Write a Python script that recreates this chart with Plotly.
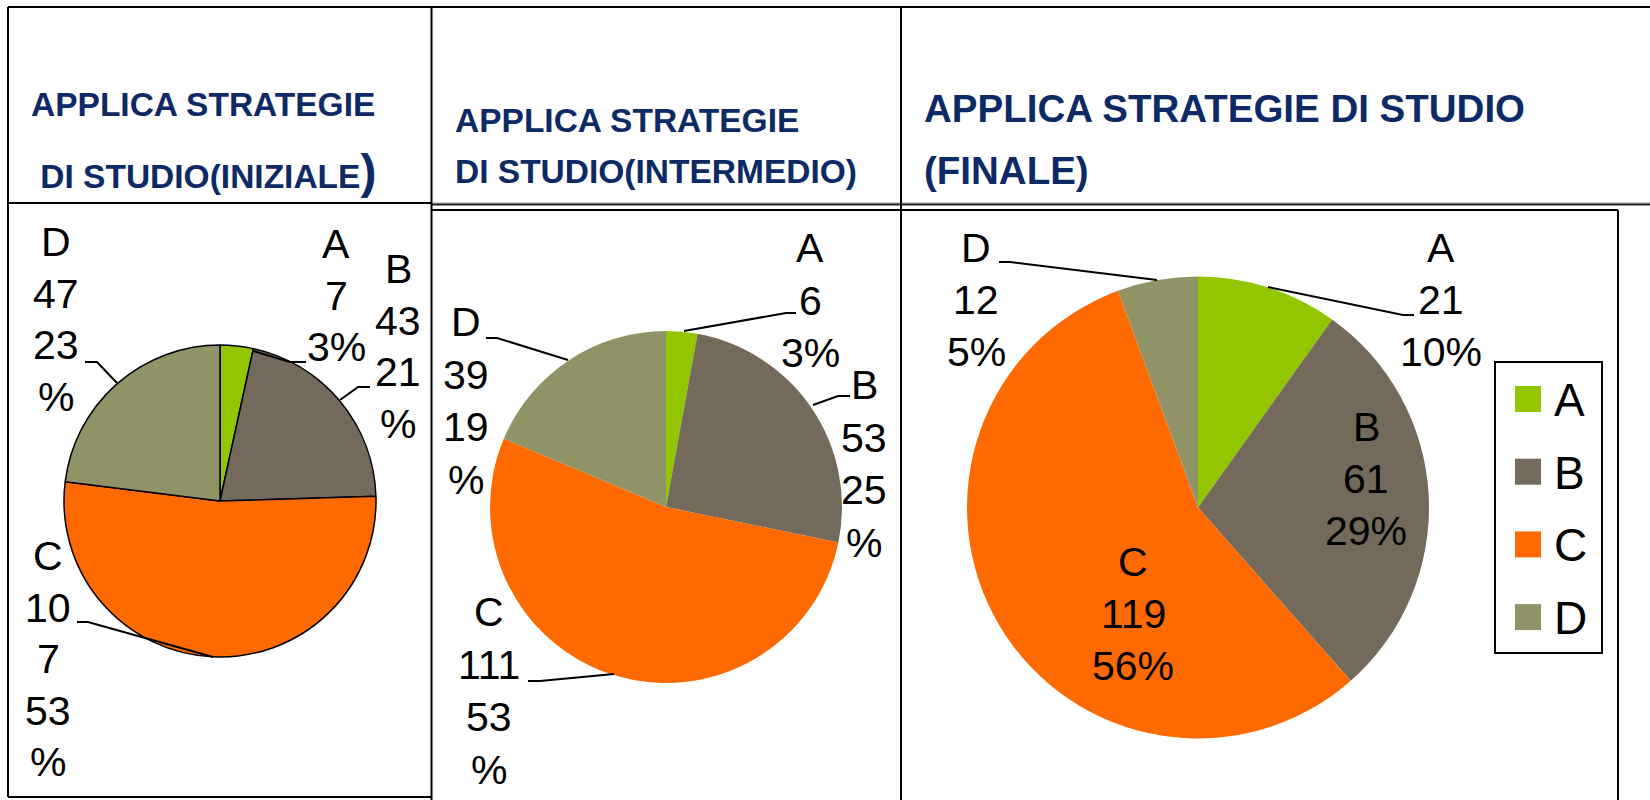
import plotly.graph_objects as go

W, H = 1650, 800

# ---------------- data ----------------
categories = ["A", "B", "C", "D"]
slice_colors = ["#94C600", "#736A5B", "#FF6A00", "#8F9366"]

title_line1 = ["APPLICA STRATEGIE", "APPLICA STRATEGIE", "APPLICA STRATEGIE DI STUDIO"]
title_line2 = [" DI STUDIO(INIZIALE", "DI STUDIO(INTERMEDIO)", "(FINALE)"]
title_tail = [")", "", ""]

values_iniziale = [7, 43, 107, 47]
values_intermedio = [6, 53, 111, 39]
values_finale = [21, 61, 119, 12]

percent_iniziale = [3, 21, 53, 23]
percent_intermedio = [3, 25, 53, 19]
percent_finale = [10, 29, 56, 5]

# ---------------- layout / style (pixels) ----------------
LABEL_FONT = "Liberation Sans"
TITLE_COLOR = "#0E2A66"

panels = [
    dict(values=values_iniziale, pct=percent_iniziale,
         center=(220, 501), r=156, outline=1.5,
         val_wrap=2, pct_wrap=2, gap=51.5,
         title_x=29, title_y=(104, 171), title_size=33.5,
         label_pos=[(336, 244), (398, 269), (48, 556), (56, 242)],
         leaders=[[(253, 351), (290, 362), (306, 362)],
                  [(340, 400), (358, 387), (370, 387)],
                  [(213, 657), (88, 622), (77, 622)],
                  [(117, 383), (97, 362), (85, 362)]]),
    dict(values=values_intermedio, pct=percent_intermedio,
         center=(666, 507), r=176, outline=0,
         val_wrap=3, pct_wrap=2, gap=52.5,
         title_x=453, title_y=(120, 172), title_size=33.5,
         label_pos=[(810, 248), (864, 385), (489, 612), (466, 322)],
         leaders=[[(684, 331), (786, 313), (796, 313)],
                  [(813, 405), (838, 396), (850, 396)],
                  [(614, 674), (540, 681), (528, 681)],
                  [(568, 360), (497, 338), (486, 338)]]),
    dict(values=values_finale, pct=percent_finale,
         center=(1198, 507.5), r=231, outline=0,
         val_wrap=3, pct_wrap=3, gap=52,
         title_x=922, title_y=(109, 170), title_size=38.5,
         label_pos=[(1441, 248), (1366, 427), (1133, 562), (976, 248)],
         leaders=[[(1268, 287), (1403, 315), (1414, 315)],
                  None,
                  None,
                  [(1157, 280), (1010, 262), (999, 262)]]),
]


def px(x):
    return x / W


def py(y):
    return 1 - y / H


def wrap(s, n):
    return [s[i:i + n] for i in range(0, len(s), n)]


fig = go.Figure()
annotations = []
shapes = []

for p, panel in enumerate(panels):
    cx, cy = panel["center"]
    r = panel["r"]
    fig.add_trace(go.Pie(
        labels=categories,
        values=panel["values"],
        sort=False,
        direction="clockwise",
        rotation=0,
        marker=dict(colors=slice_colors,
                    line=dict(color="black", width=panel["outline"])),
        textinfo="none",
        hoverinfo="label+value+percent",
        showlegend=False,
        domain=dict(x=[px(cx - r), px(cx + r)], y=[py(cy + r), py(cy - r)]),
    ))

    # titles
    size = panel["title_size"]
    t2 = title_line2[p]
    if title_tail[p]:
        t2 += "<span style='font-size:%dpx'>%s</span>" % (int(size * 1.45), title_tail[p])
    for txt, ty in zip([title_line1[p], t2], panel["title_y"]):
        annotations.append(dict(
            x=px(panel["title_x"]), y=py(ty), xref="paper", yref="paper",
            xanchor="left", yanchor="middle", showarrow=False,
            text="<b>%s</b>" % txt,
            font=dict(family=LABEL_FONT, size=size, color=TITLE_COLOR),
        ))

    # data labels
    for i, cat in enumerate(categories):
        lines = [cat] + wrap(str(panel["values"][i]), panel["val_wrap"]) \
            + wrap("%d%%" % panel["pct"][i], panel["pct_wrap"])
        lx, ly = panel["label_pos"][i]
        for k, ln in enumerate(lines):
            annotations.append(dict(
                x=px(lx), y=py(ly + k * panel["gap"]), xref="paper", yref="paper",
                xanchor="center", yanchor="middle", showarrow=False,
                text=ln, font=dict(family=LABEL_FONT, size=41, color="black"),
            ))
        pts = panel["leaders"][i]
        if pts:
            path = "M " + " L ".join("%f,%f" % (px(a), py(b)) for a, b in pts)
            shapes.append(dict(type="path", xref="paper", yref="paper", path=path,
                               line=dict(color="black", width=2)))

# legend (panel 3)
leg_box = (1495, 362, 1602, 653)
shapes.append(dict(type="rect", xref="paper", yref="paper",
                   x0=px(leg_box[0]), x1=px(leg_box[2]), y0=py(leg_box[3]), y1=py(leg_box[1]),
                   line=dict(color="black", width=2), fillcolor="rgba(0,0,0,0)"))
leg_first_y, leg_gap, sw = 399, 72.7, 26
for i, cat in enumerate(categories):
    yc = leg_first_y + i * leg_gap
    shapes.append(dict(type="rect", xref="paper", yref="paper",
                       x0=px(1515), x1=px(1515 + sw), y0=py(yc + sw / 2), y1=py(yc - sw / 2),
                       line=dict(width=0), fillcolor=slice_colors[i]))
    annotations.append(dict(x=px(1552), y=py(yc + 1), xref="paper", yref="paper",
                            xanchor="left", yanchor="middle", showarrow=False,
                            text=cat, font=dict(family=LABEL_FONT, size=46, color="black")))

# table borders
def hline(y, x0, x1, color="black", w=2):
    shapes.append(dict(type="line", xref="paper", yref="paper",
                       x0=px(x0), x1=px(x1), y0=py(y), y1=py(y),
                       line=dict(color=color, width=w)))


def vline(x, y0, y1, color="black", w=2):
    shapes.append(dict(type="line", xref="paper", yref="paper",
                       x0=px(x), x1=px(x), y0=py(y0), y1=py(y1),
                       line=dict(color=color, width=w)))


hline(7, 8, 1650)
hline(203, 8, 431)
hline(203, 431, 1650, color="#9a9a9a", w=1)
hline(204.5, 431, 1650, color="#222222", w=2)
hline(210, 431, 1618)
hline(797, 8, 431)
vline(8, 7, 797)
vline(431.5, 7, 800)
vline(901, 7, 800)
vline(1618, 210, 800)

fig.update_layout(
    width=W, height=H,
    margin=dict(l=0, r=0, t=0, b=0),
    paper_bgcolor="white",
    plot_bgcolor="white",
    annotations=annotations,
    shapes=shapes,
    showlegend=False,
)

fig.write_html("out.html",
               config={"displayModeBar": False},
               post_script="document.body.style.margin='0';document.body.style.overflow='hidden';")
